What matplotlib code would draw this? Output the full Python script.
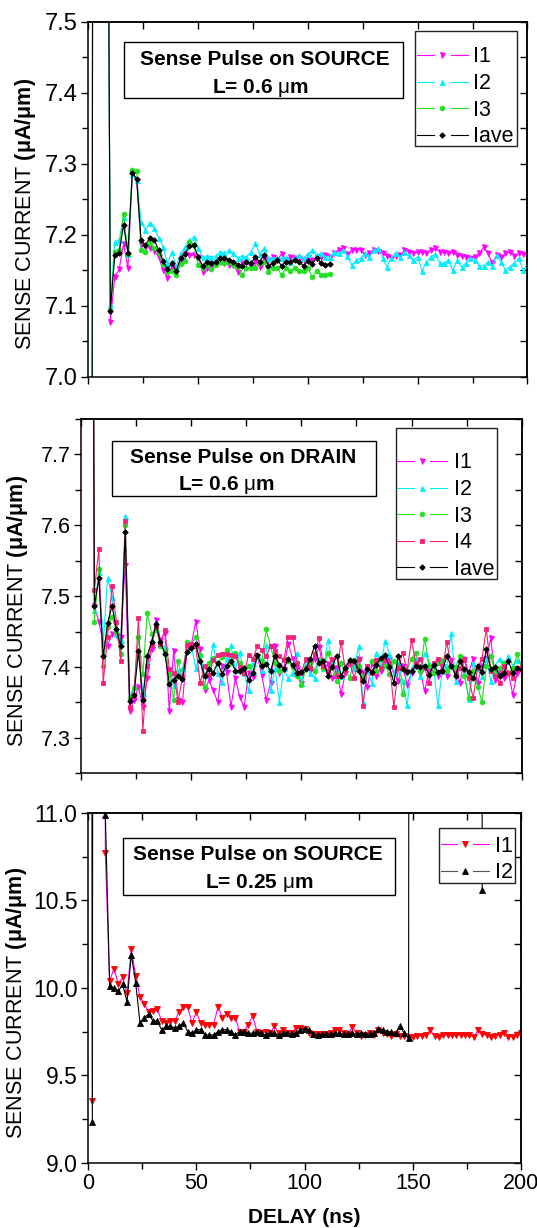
import numpy as np
import matplotlib
matplotlib.use("Agg")
import matplotlib.pyplot as plt
from matplotlib.lines import Line2D
from matplotlib.patches import Rectangle
from matplotlib.ticker import MultipleLocator, FormatStrFormatter, NullFormatter

plt.rcParams['font.family'] = ['Liberation Sans', 'DejaVu Sans']
plt.rcParams['mathtext.fontset'] = 'custom'
plt.rcParams['mathtext.rm'] = 'Liberation Sans'
plt.rcParams['mathtext.bf'] = 'Liberation Sans:bold'
plt.rcParams['mathtext.it'] = 'Liberation Sans:italic'
plt.rcParams['mathtext.sf'] = 'Liberation Sans'
plt.rcParams['lines.scale_dashes'] = False

# ------------------------------------------------------------------ data
STEP = 2.0   # ns between samples
OFF = 40.0   # off-scale transient values (beyond plotted range)

# Panel 1 : Sense pulse on SOURCE, L = 0.6 um
p1_lead_x = [0, 2, 4, 6, 8]
p1_lead = [0.0, 8.0, 8.5, 8.5, 8.3]
p1_start = 10
p1_I1 = [7.077, 7.141, 7.151, 7.187, 7.153, 7.286, 7.275, 7.186, 7.183, 7.181,
         7.177, 7.169, 7.150, 7.139, 7.155, 7.151, 7.164, 7.173, 7.171, 7.171,
         7.169, 7.148, 7.153, 7.155, 7.160, 7.162, 7.160, 7.157, 7.157, 7.148,
         7.160, 7.162, 7.155, 7.162, 7.155, 7.167, 7.164, 7.168, 7.164, 7.173,
         7.165, 7.168, 7.167, 7.167, 7.164, 7.168, 7.164, 7.167, 7.169, 7.171,
         7.169, 7.174, 7.179, 7.181, 7.173, 7.178, 7.179, 7.179, 7.171, 7.174,
         7.179, 7.177, 7.174, 7.170, 7.167, 7.170, 7.171, 7.178, 7.176, 7.174,
         7.175, 7.176, 7.174, 7.179, 7.181, 7.176, 7.176, 7.174, 7.175, 7.171,
         7.170, 7.169, 7.167, 7.169, 7.174, 7.182, 7.174, 7.160, 7.171, 7.169,
         7.174, 7.176, 7.170, 7.174, 7.173, 7.172]
p1_I2 = [7.103, 7.190, 7.193, 7.225, 7.173, 7.286, 7.277, 7.218, 7.207, 7.217,
         7.209, 7.196, 7.183, 7.160, 7.175, 7.155, 7.174, 7.183, 7.192, 7.197,
         7.181, 7.169, 7.170, 7.169, 7.170, 7.176, 7.174, 7.178, 7.174, 7.167,
         7.170, 7.169, 7.175, 7.188, 7.173, 7.181, 7.167, 7.167, 7.167, 7.167,
         7.168, 7.162, 7.167, 7.171, 7.167, 7.173, 7.178, 7.171, 7.174, 7.169,
         7.169, 7.175, 7.174, 7.178, 7.170, 7.157, 7.164, 7.167, 7.174, 7.169,
         7.178, 7.181, 7.167, 7.155, 7.167, 7.174, 7.169, 7.175, 7.171, 7.164,
         7.169, 7.149, 7.162, 7.169, 7.173, 7.160, 7.160, 7.164, 7.150, 7.164,
         7.155, 7.160, 7.167, 7.165, 7.156, 7.156, 7.162, 7.156, 7.171, 7.162,
         7.150, 7.155, 7.160, 7.167, 7.150, 7.158]
p1_I3 = [7.094, 7.175, 7.179, 7.229, 7.173, 7.291, 7.290, 7.179, 7.175, 7.188,
         7.181, 7.174, 7.159, 7.148, 7.149, 7.143, 7.159, 7.163, 7.190, 7.185,
         7.157, 7.153, 7.158, 7.151, 7.157, 7.162, 7.160, 7.161, 7.157, 7.155,
         7.143, 7.153, 7.153, 7.153, 7.160, 7.161, 7.148, 7.153, 7.153, 7.143,
         7.153, 7.149, 7.153, 7.149, 7.149, 7.153, 7.140, 7.149, 7.143, 7.143,
         7.145]
p1_Iave = [7.093, 7.171, 7.174, 7.214, 7.174, 7.287, 7.279, 7.192, 7.185, 7.196,
           7.192, 7.179, 7.163, 7.151, 7.160, 7.149, 7.167, 7.173, 7.184, 7.185,
           7.169, 7.156, 7.162, 7.160, 7.162, 7.167, 7.167, 7.165, 7.162, 7.158,
           7.156, 7.162, 7.160, 7.168, 7.162, 7.171, 7.156, 7.160, 7.165, 7.156,
           7.162, 7.162, 7.165, 7.162, 7.156, 7.163, 7.159, 7.167, 7.160, 7.158,
           7.159]

# Panel 2 : Sense pulse on DRAIN, L = 0.6 um
p2_lead_x = [4]
p2_lead = [9.0]
p2_start = 6
p2_I1 = [7.486, 7.464, 7.434, 7.430, 7.447, 7.445, 7.443, 7.544, 7.338, 7.354,
         7.372, 7.343, 7.384, 7.426, 7.467, 7.438, 7.448, 7.338, 7.423, 7.354,
         7.350, 7.422, 7.431, 7.464, 7.426, 7.367, 7.381, 7.367, 7.350, 7.401,
         7.393, 7.344, 7.384, 7.358, 7.344, 7.391, 7.386, 7.415, 7.389, 7.354,
         7.377, 7.429, 7.391, 7.397, 7.433,
         7.412, 7.398, 7.377, 7.405, 7.395, 7.412, 7.428, 7.398, 7.404, 7.385,
         7.398, 7.362, 7.392, 7.404, 7.398, 7.412, 7.392, 7.372, 7.405, 7.388,
         7.395, 7.408, 7.412, 7.392, 7.380, 7.402, 7.375, 7.392, 7.401, 7.392,
         7.366, 7.397, 7.401, 7.388, 7.401, 7.388, 7.410, 7.398, 7.378, 7.412,
         7.392, 7.412, 7.378, 7.401, 7.412, 7.441, 7.382, 7.391, 7.385, 7.392,
         7.361, 7.392, 7.404]
p2_I2 = [7.481, 7.534, 7.434, 7.526, 7.499, 7.447, 7.438, 7.613, 7.359, 7.372,
         7.419, 7.364, 7.408, 7.438, 7.454, 7.433, 7.429, 7.391, 7.375, 7.395,
         7.398, 7.424, 7.431, 7.398, 7.419, 7.389, 7.398, 7.433, 7.391, 7.379,
         7.412, 7.431, 7.396, 7.421, 7.391, 7.367, 7.405, 7.417, 7.396, 7.431,
         7.367, 7.398, 7.351, 7.398, 7.384,
         7.392, 7.420, 7.378, 7.405, 7.392, 7.384, 7.412, 7.398, 7.438, 7.410,
         7.395, 7.388, 7.402, 7.410, 7.398, 7.430, 7.350, 7.395, 7.378, 7.420,
         7.402, 7.437, 7.418, 7.392, 7.405, 7.380, 7.346, 7.398, 7.412, 7.388,
         7.420, 7.405, 7.398, 7.346, 7.395, 7.402, 7.448, 7.380, 7.410, 7.392,
         7.355, 7.405, 7.398, 7.388, 7.412, 7.380, 7.402, 7.412, 7.395, 7.415,
         7.402, 7.410, 7.402]
p2_I3 = [7.464, 7.538, 7.401, 7.457, 7.471, 7.450, 7.418, 7.600, 7.356, 7.370,
         7.442, 7.390, 7.476, 7.447, 7.454, 7.429, 7.423, 7.390, 7.354, 7.408,
         7.384, 7.436, 7.431, 7.443, 7.417, 7.372, 7.406, 7.413, 7.406, 7.414,
         7.424, 7.406, 7.420, 7.405, 7.398, 7.401, 7.391, 7.415, 7.408, 7.453,
         7.429, 7.405, 7.395, 7.412, 7.408,
         7.400, 7.388, 7.374, 7.398, 7.405, 7.395, 7.410, 7.398, 7.420, 7.402,
         7.380, 7.405, 7.395, 7.385, 7.410, 7.402, 7.385, 7.398, 7.408, 7.395,
         7.412, 7.402, 7.390, 7.408, 7.400, 7.362, 7.395, 7.412, 7.420, 7.395,
         7.440, 7.402, 7.392, 7.405, 7.410, 7.395, 7.402, 7.400, 7.415, 7.388,
         7.356, 7.395, 7.372, 7.351, 7.402, 7.415, 7.392, 7.398, 7.405, 7.392,
         7.398, 7.418, 7.400]
p2_I4 = [7.509, 7.566, 7.378, 7.443, 7.515, 7.464, 7.408, 7.606, 7.344, 7.361,
         7.469, 7.310, 7.401, 7.431, 7.458, 7.433, 7.452, 7.397, 7.392, 7.351,
         7.386, 7.431, 7.433, 7.429, 7.378, 7.401, 7.389, 7.410, 7.417, 7.419,
         7.418, 7.417, 7.416, 7.400, 7.391, 7.417, 7.411, 7.430, 7.424, 7.415,
         7.430, 7.423, 7.415, 7.410, 7.443,
         7.442, 7.405, 7.392, 7.412, 7.398, 7.418, 7.441, 7.402, 7.395, 7.412,
         7.388, 7.436, 7.395, 7.405, 7.385, 7.412, 7.345, 7.402, 7.392, 7.410,
         7.398, 7.412, 7.405, 7.344, 7.398, 7.420, 7.395, 7.438, 7.405, 7.412,
         7.398, 7.378, 7.405, 7.412, 7.395, 7.435, 7.402, 7.392, 7.398, 7.410,
         7.385, 7.356, 7.398, 7.412, 7.454, 7.395, 7.388, 7.378, 7.402, 7.392,
         7.385, 7.398, 7.400]
p2_Iave = [7.486, 7.525, 7.415, 7.462, 7.486, 7.453, 7.429, 7.590, 7.352, 7.361,
           7.422, 7.353, 7.416, 7.436, 7.460, 7.435, 7.419, 7.376, 7.382, 7.388,
           7.383, 7.421, 7.427, 7.432, 7.408, 7.388, 7.397, 7.392, 7.406, 7.390,
           7.402, 7.409, 7.395, 7.395, 7.399, 7.381, 7.392, 7.417, 7.401, 7.404,
           7.395, 7.415, 7.403, 7.397, 7.411, 7.403, 7.392, 7.393, 7.397, 7.411,
           7.430, 7.406, 7.409, 7.388, 7.400, 7.416, 7.388, 7.399, 7.410, 7.409,
           7.395, 7.380, 7.397, 7.393, 7.403, 7.413, 7.417, 7.400, 7.378, 7.415,
           7.397, 7.393, 7.395, 7.402, 7.400, 7.402, 7.389, 7.403, 7.393, 7.395,
           7.415, 7.402, 7.388, 7.408, 7.397, 7.393, 7.384, 7.401, 7.393, 7.425,
           7.397, 7.400, 7.388, 7.392, 7.409, 7.391, 7.399, 7.396]

# Panel 3 : Sense pulse on SOURCE, L = 0.25 um  (samples from 0 ns)
p3_I1 = [OFF, 9.35, OFF, OFF, 10.77,
         10.04, 10.11, 10.02, 10.06, 9.97, 10.22, 10.07, 9.95, 9.91, 9.86,
         9.87, 9.88, 9.81, 9.80, 9.81, 9.81, 9.86, 9.89, 9.89, 9.80,
         9.86, 9.80, 9.79, 9.79, 9.79, 9.89, 9.83, 9.85, 9.83, 9.83,
         9.75, 9.75, 9.79, 9.84, 9.75, 9.74, 9.75, 9.74, 9.78,
         9.744, 9.756, 9.744, 9.740, 9.770, 9.770, 9.763, 9.744, 9.735, 9.735,
         9.735, 9.735, 9.740, 9.756, 9.756, 9.744, 9.735, 9.775, 9.744, 9.725,
         9.730, 9.744, 9.730, 9.760, 9.744, 9.735, 9.725, 9.735, 9.725, 9.725,
         9.718, 9.718, 9.725, 9.725, 9.730, 9.756, 9.725, 9.718, 9.730, 9.730,
         9.730, 9.730, 9.730, 9.730, 9.730, 9.718, 9.756, 9.735, 9.730, 9.720,
         9.725, 9.730, 9.744, 9.720, 9.720, 9.730, 9.740]
p3_I2 = [OFF, 9.23, OFF, OFF, 10.99,
         10.01, 10.00, 9.98, 10.02, 9.92, 10.19, 10.03, 9.80, 9.83, 9.85,
         9.81, 9.81, 9.76, 9.78, 9.78, 9.77, 9.78, 9.80, 9.75, 9.74,
         9.76, 9.76, 9.73, 9.73, 9.73, 9.75, 9.76, 9.76, 9.75, 9.73,
         9.75, 9.75, 9.74, 9.74, 9.75, 9.74, 9.73, 9.74, 9.74, 9.73,
         9.740, 9.740, 9.735, 9.740, 9.760, 9.765, 9.760, 9.735, 9.730, 9.735,
         9.735, 9.735, 9.740, 9.740, 9.735, 9.735, 9.740, 9.735, 9.740, 9.735,
         9.735, 9.740, 9.765, 9.760, 9.750, 9.745, 9.740, 9.780, 9.740, 9.710,
         OFF, OFF, OFF, OFF, OFF, OFF, OFF, OFF, OFF, OFF, OFF, OFF, OFF, OFF, OFF, OFF,
         10.56]

# ------------------------------------------------------------------ figure
W, H = 537, 1228
fig = plt.figure(figsize=(W / 100, H / 100), dpi=100)


def fx(px):
    return px / W


def fy(py):
    return 1 - py / H


def make_axes(l, r, t, b):
    return fig.add_axes([fx(l), fy(b), fx(r) - fx(l), fy(t) - fy(b)])


def style(ax, ylo, yhi, ymaj, ymin, xlabels, ytick_fs, xtick_fs=15):
    ax.set_xlim(0, 200)
    ax.set_ylim(ylo, yhi)
    ax.xaxis.set_major_locator(MultipleLocator(50))
    ax.xaxis.set_minor_locator(MultipleLocator(25))
    ax.yaxis.set_major_locator(MultipleLocator(ymaj))
    ax.yaxis.set_minor_locator(MultipleLocator(ymin))
    ax.yaxis.set_major_formatter(FormatStrFormatter('%.1f'))
    ax.tick_params(which='both', direction='out', top=False, right=False,
                   width=1.0, pad=2.5)
    ax.tick_params(axis='y', labelsize=ytick_fs)
    ax.tick_params(axis='x', labelsize=xtick_fs)
    ax.tick_params(which='major', length=5)
    ax.tick_params(which='minor', length=4.5)
    if not xlabels:
        ax.xaxis.set_major_formatter(NullFormatter())
    for s in ax.spines.values():
        s.set_linewidth(1.1)
    top = ax.secondary_xaxis('top')
    top.xaxis.set_major_locator(MultipleLocator(50))
    top.xaxis.set_minor_locator(MultipleLocator(25))
    top.xaxis.set_major_formatter(NullFormatter())
    top.tick_params(which='both', direction='in', length=5, width=1.0)
    top.spines['top'].set_linewidth(1.1)
    right = ax.secondary_yaxis('right')
    right.yaxis.set_major_locator(MultipleLocator(ymaj))
    right.yaxis.set_minor_locator(MultipleLocator(ymin))
    right.yaxis.set_major_formatter(NullFormatter())
    right.tick_params(which='both', direction='in', length=5, width=1.0)
    right.spines['right'].set_linewidth(1.1)


def series_x(lead_x, start, n):
    return np.concatenate([np.asarray(lead_x, float), start + STEP * np.arange(n)])


MAG = '#FF00FF'
CYA = '#00EEFF'
GRN = '#22E022'
PNK = '#F5207A'
BLK = '#000000'
RED = '#FF0000'
LW = 0.8

sty = {
    'I1': dict(color=MAG, marker='v', ms=3.6, mfc=MAG, mec=MAG),
    'I2': dict(color=CYA, marker='^', ms=3.6, mfc=CYA, mec=CYA),
    'I3': dict(color=GRN, marker='o', ms=3.4, mfc=GRN, mec=GRN),
    'I4': dict(color=PNK, marker='s', ms=2.9, mfc=PNK, mec=PNK),
    'Iave': dict(color=BLK, marker='D', ms=2.8, mfc=BLK, mec=BLK),
}


def plot_series(ax, x, y, st, lw=LW):
    ax.plot(x, y, color=st['color'], lw=lw, marker=st['marker'], ms=st['ms'],
            mfc=st['mfc'], mec=st['mec'], mew=0.6)


def text_box(x0, x1, y0, y1, lines):
    fig.add_artist(Rectangle((fx(x0), fy(y1)), fx(x1) - fx(x0), fy(y0) - fy(y1),
                             transform=fig.transFigure, fill=False,
                             edgecolor='black', lw=1.0, zorder=5))
    for (s, cx, base) in lines:
        fig.text(fx(cx), fy(base), s, ha='center', va='baseline', fontsize=15,
                 fontweight='bold', zorder=6)


def manual_legend(box, hx0, hx1, tx, entries):
    x0, x1, y0, y1 = box
    fig.add_artist(Rectangle((fx(x0), fy(y1)), fx(x1) - fx(x0), fy(y0) - fy(y1),
                             transform=fig.transFigure, facecolor='white',
                             edgecolor='#222222', lw=1.0, zorder=20))
    seg = (hx1 - hx0) / 3.0
    for label, st, lcol, yc in entries:
        for a, b in ((hx0, hx0 + seg), (hx1 - seg, hx1)):
            fig.add_artist(Line2D([fx(a), fx(b)], [fy(yc), fy(yc)],
                                  transform=fig.transFigure, color=lcol,
                                  lw=LW, zorder=21))
        fig.add_artist(Line2D([fx((hx0 + hx1) / 2)], [fy(yc)],
                              transform=fig.transFigure, linestyle='none',
                              marker=st['marker'], ms=st['ms'], mfc=st['mfc'],
                              mec=st['mec'], mew=0.6, zorder=22))
        fig.text(fx(tx), fy(yc + 7.5), label, ha='left', va='baseline',
                 fontsize=15.5, zorder=23)


YLAB = r'SENSE CURRENT $\mathbf{(\mu A/\mu m)}$'

# ---------------- Panel 1
ax1 = make_axes(88.4, 527.4, 21.7, 376.7)
style(ax1, 7.0, 7.5, 0.1, 0.05, False, 17)
for name, vals in (('I1', p1_I1), ('I2', p1_I2), ('I3', p1_I3), ('Iave', p1_Iave)):
    x = series_x(p1_lead_x, p1_start, len(vals))
    y = np.concatenate([p1_lead, vals])
    plot_series(ax1, x, y, sty[name])
fig.text(fx(25.3), fy(214), YLAB, rotation=90, ha='center', va='center', fontsize=15.5)
text_box(124, 403.4, 42.3, 98.3,
         [('Sense Pulse on SOURCE', 265, 65.0),
          (r'L= 0.6 $\mathrm{\mu}$m', 260, 92.7)])
manual_legend((415.4, 517.1, 30.7, 146.0), 417.1, 467.5, 472.6,
              [('I1', sty['I1'], MAG, 55.0), ('I2', sty['I2'], CYA, 81.7),
               ('I3', sty['I3'], GRN, 108.3), ('Iave', sty['Iave'], BLK, 135.0)])

# ---------------- Panel 2
ax2 = make_axes(81.2, 521.6, 419.0, 773.3)
style(ax2, 7.25, 7.75, 0.1, 0.05, False, 15.5)
for name, vals in (('I1', p2_I1), ('I2', p2_I2), ('I3', p2_I3), ('I4', p2_I4),
                   ('Iave', p2_Iave)):
    x = series_x(p2_lead_x, p2_start, len(vals))
    y = np.concatenate([p2_lead, vals])
    plot_series(ax2, x, y, sty[name])
fig.text(fx(17.1), fy(610.5), YLAB, rotation=90, ha='center', va='center', fontsize=15.5)
text_box(112.3, 375.7, 440.7, 496.0,
         [('Sense Pulse on DRAIN', 243.2, 463.3),
          (r'L= 0.6 $\mathrm{\mu}$m', 226.4, 490.0)])
manual_legend((396.2, 497.3, 428.3, 579.3), 397.3, 446.9, 453.8,
              [('I1', sty['I1'], MAG, 460.7), ('I2', sty['I2'], CYA, 487.7),
               ('I3', sty['I3'], GRN, 514.0), ('I4', sty['I4'], PNK, 540.7),
               ('Iave', sty['Iave'], BLK, 567.3)])

# ---------------- Panel 3
ax3 = make_axes(88.0, 521.2, 813.0, 1162.6)
style(ax3, 9.0, 11.0, 0.5, 0.25, True, 16.5, 15.5)
st3_1 = dict(color=MAG, marker='v', ms=3.8, mfc=RED, mec=RED)
st3_2 = dict(color=BLK, marker='^', ms=3.8, mfc=BLK, mec=BLK)
plot_series(ax3, STEP * np.arange(len(p3_I1)), p3_I1, st3_1)
plot_series(ax3, STEP * np.arange(len(p3_I2)), p3_I2, st3_2)
fig.text(fx(16.4), fy(1002.5), YLAB, rotation=90, ha='center', va='center', fontsize=15.5)
text_box(122.6, 394.5, 838.3, 894.5,
         [('Sense Pulse on SOURCE', 257.7, 860.0),
          (r'L= 0.25 $\mathrm{\mu}$m', 259.4, 887.7)])
manual_legend((439.0, 514.7, 828.3, 883.0), 441.0, 489.0, 495.0,
              [('I1', st3_1, MAG, 844.0), ('I2', st3_2, '#555555', 870.5)])
fig.text(fx(304.5), fy(1223.0), 'DELAY (ns)', ha='center', va='baseline',
         fontsize=15, fontweight='bold')

fig.savefig('out.png', dpi=100)
